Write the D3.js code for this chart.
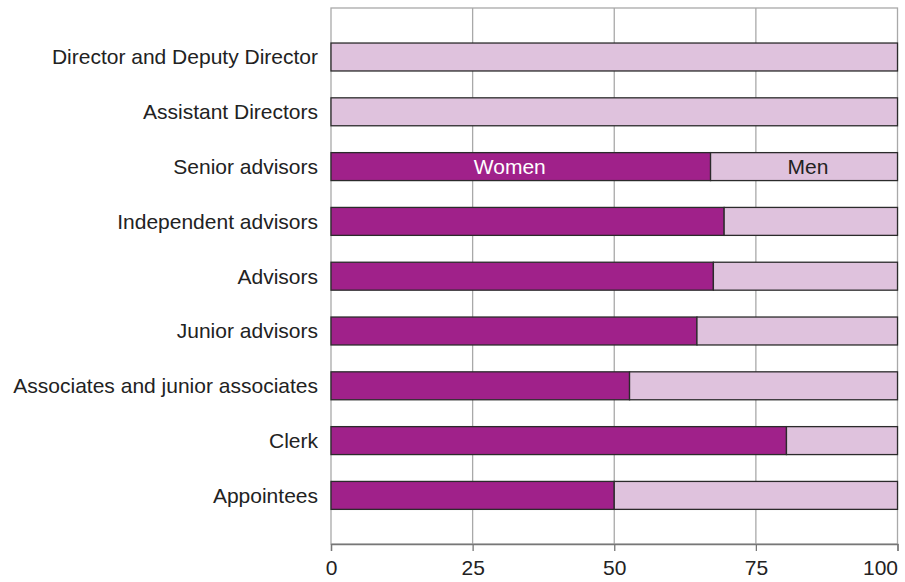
<!DOCTYPE html>
<html>
<head>
<meta charset="utf-8">
<script src="https://cdn.jsdelivr.net/npm/d3@7"></script>
<style>
  html, body { margin: 0; padding: 0; background: #fff; }
  svg { display: block; }
  text { font-family: "Liberation Sans", Arial, sans-serif; }
</style>
</head>
<body>
<svg id="chart" width="905" height="582"></svg>
<script>
// Staff by job category, share of women and men (per cent)
const categories = [
  "Director and Deputy Director",
  "Assistant Directors",
  "Senior advisors",
  "Independent advisors",
  "Advisors",
  "Junior advisors",
  "Associates and junior associates",
  "Clerk",
  "Appointees"
];
const women = [0, 0, 67, 69.4, 67.5, 64.6, 52.7, 80.4, 50];
const men = women.map(w => 100 - w);
const xTicks = [0, 25, 50, 75, 100];
const seriesNames = ["Women", "Men"];

const colWomen = "#a0218a";
const colMen = "#dfc2dd";
const colEdge = "#2b2b2b";
const colGrid = "#a9a9a9";
const fontSize = 21;

const svg = d3.select("#chart");
const plotL = 331, plotR = 897.5, plotT = 8, plotB = 544;

const x = d3.scaleLinear().domain([0, 100]).range([plotL, plotR]);
const y = d3.scaleBand().domain(categories).range([29.6, 522.8]).paddingInner(0.49).paddingOuter(0.245);

// frame and vertical grid
svg.append("rect")
  .attr("x", plotL).attr("y", plotT)
  .attr("width", plotR - plotL).attr("height", plotB - plotT)
  .attr("fill", "none").attr("stroke", colGrid).attr("stroke-width", 1.3);

svg.append("g").selectAll("line")
  .data(xTicks.slice(1, -1))
  .join("line")
  .attr("x1", d => x(d)).attr("x2", d => x(d))
  .attr("y1", plotT).attr("y2", plotB)
  .attr("stroke", colGrid).attr("stroke-width", 1.3);

// x axis
const xAxis = svg.append("g")
  .attr("transform", `translate(0,${plotB})`)
  .call(d3.axisBottom(x).tickValues(xTicks).tickSize(7).tickPadding(9));
xAxis.select(".domain").attr("stroke", "#777").attr("stroke-width", 1.3);
xAxis.selectAll(".tick line").attr("stroke", "#777").attr("stroke-width", 1.3);
xAxis.selectAll(".tick text")
  .attr("font-size", fontSize).attr("fill", "#222")
  .style("font-family", "'Liberation Sans', Arial, sans-serif")
  .attr("text-anchor", d => d === 100 ? "end" : "middle");

// category labels
svg.append("g").selectAll("text")
  .data(categories)
  .join("text")
  .attr("x", 318)
  .attr("y", d => y(d) + y.bandwidth() / 2)
  .attr("dy", "0.35em")
  .attr("text-anchor", "end")
  .attr("font-size", fontSize)
  .attr("fill", "#222")
  .text(d => d);

// stacked bars
const rows = categories.map((c, i) => ({ c, w: women[i], m: men[i] }));
const bars = svg.append("g");
bars.selectAll("rect.women")
  .data(rows.filter(d => d.w > 0))
  .join("rect")
  .attr("class", "women")
  .attr("x", x(0))
  .attr("y", d => y(d.c))
  .attr("width", d => x(d.w) - x(0))
  .attr("height", y.bandwidth())
  .attr("fill", colWomen).attr("stroke", colEdge).attr("stroke-width", 1.3);
bars.selectAll("rect.men")
  .data(rows)
  .join("rect")
  .attr("class", "men")
  .attr("x", d => x(d.w))
  .attr("y", d => y(d.c))
  .attr("width", d => x(100) - x(d.w))
  .attr("height", y.bandwidth())
  .attr("fill", colMen).attr("stroke", colEdge).attr("stroke-width", 1.3);

// in-bar series labels on the Senior advisors row
const keyRow = rows[2];
const ky = y(keyRow.c) + y.bandwidth() / 2;
svg.append("text")
  .attr("x", x(keyRow.w / 2) - 11).attr("y", ky).attr("dy", "0.35em")
  .attr("text-anchor", "middle").attr("font-size", fontSize).attr("fill", "#fff")
  .text(seriesNames[0]);
svg.append("text")
  .attr("x", x(keyRow.w + keyRow.m / 2) + 4).attr("y", ky).attr("dy", "0.35em")
  .attr("text-anchor", "middle").attr("font-size", fontSize).attr("fill", "#222")
  .text(seriesNames[1]);
</script>
</body>
</html>
